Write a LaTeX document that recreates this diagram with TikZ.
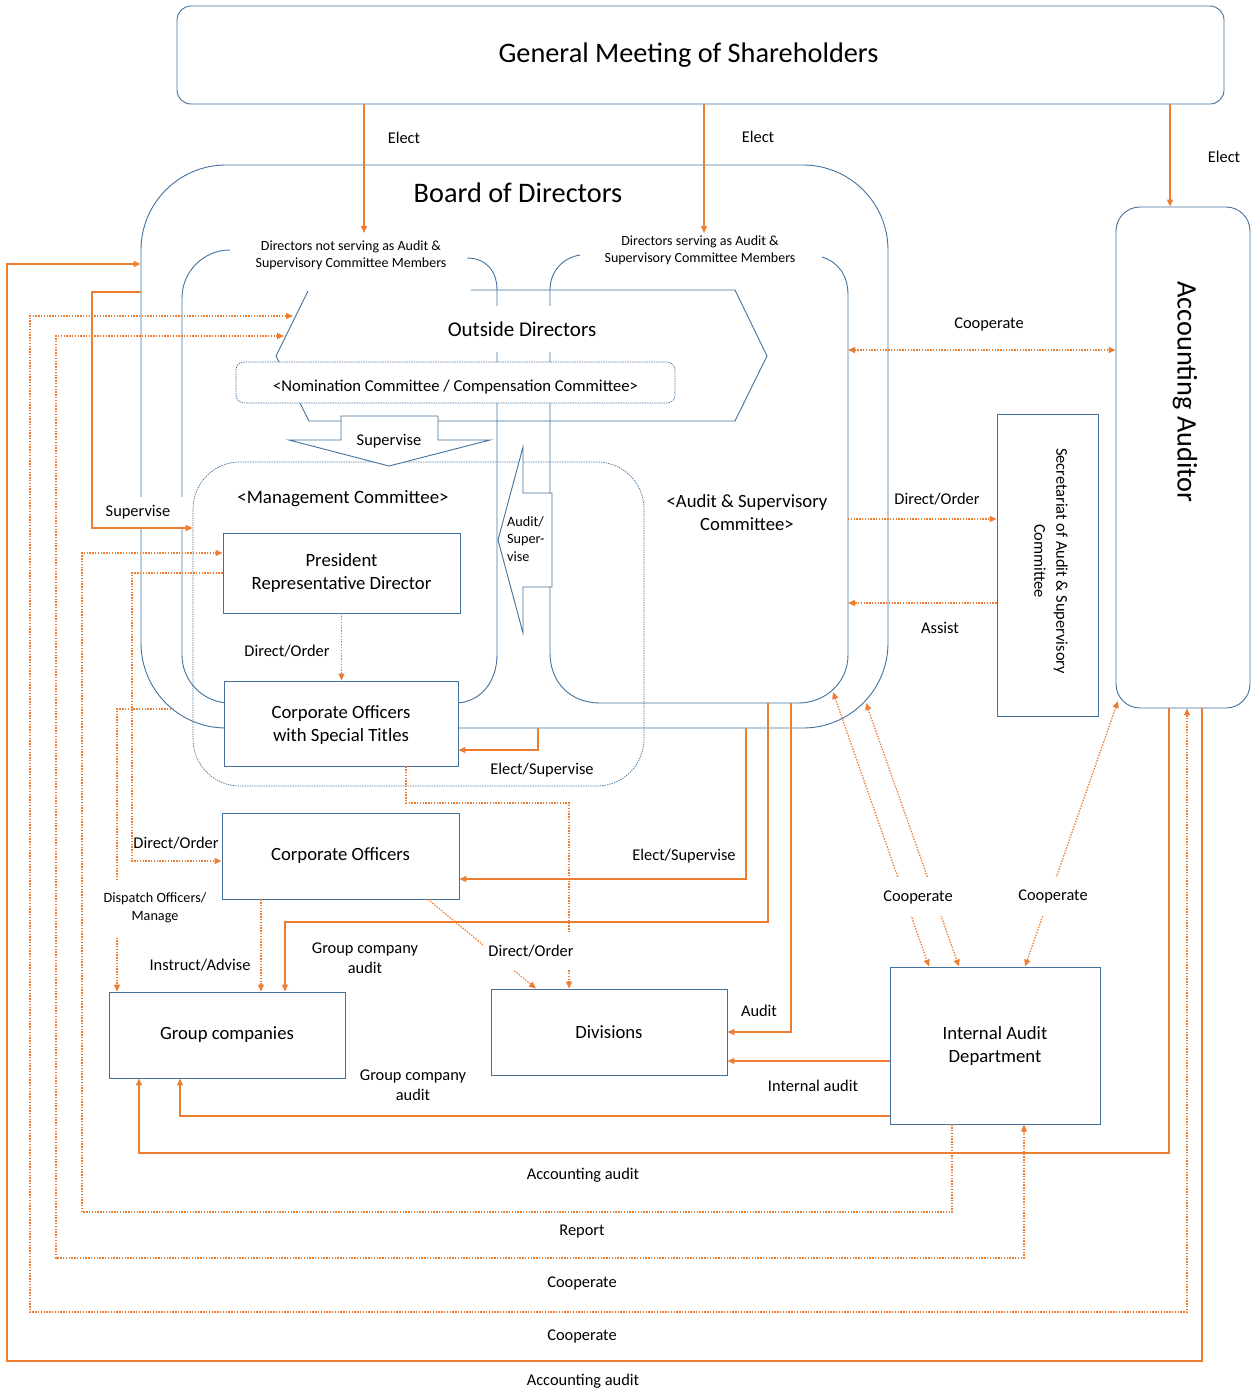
\documentclass[tikz,border=0pt]{standalone}
\usepackage{fontspec}
\setmainfont{Carlito}
\usepackage{xcolor}
\definecolor{myblue}{RGB}{65,113,156}
\definecolor{myorange}{RGB}{237,125,49}
\usetikzlibrary{arrows.meta}
\newcommand{\boxw}{237pt}
\newcommand{\boxh}{86pt}
\tikzset{
    common/.style={draw=myblue, line width=0.9pt, fill=white, align=center, inner sep=2pt},
    entity/.style={common, minimum width=\boxw, minimum height=\boxh, font=\fontsize{18.7}{23}\selectfont},
    bline/.style={myblue, line width=0.9pt},
    dline/.style={draw=myblue, line width=0.7pt, dash pattern=on 1.4pt off 1pt},
    bigtxt/.style={font=\fontsize{28.3}{32}\selectfont},
    lab/.style={align=center, inner sep=1pt, font=\fontsize{16.4}{20}\selectfont},
    smalllab/.style={align=center, inner sep=1pt, font=\fontsize{14.2}{17.5}\selectfont},
    arr/.style={-{Triangle[length=7pt,width=6pt]}},
    both/.style={{Triangle[length=7pt,width=6pt]}-{Triangle[length=7pt,width=6pt]}},
    flow/.style={myorange, line width=1.6pt, arr},
    dflow/.style={myorange, line width=1.3pt, dash pattern=on 1.4pt off 1.4pt, arr}
}
\begin{document}
\begin{tikzpicture}[x=1pt, y=-1pt]
\useasboundingbox (0,0) rectangle (1253,1393);

\node[common, fill=none, minimum width=747pt, minimum height=563pt, rounded corners=85pt] (bod) at (514.5,446.5) {};
\draw[bline, rounded corners=48pt] (230,250) -- (182,250) -- (182,703) -- (232,703);
\draw[bline] (467,258) .. controls (485,258) and (497,270) .. (497,290) -- (497,655) .. controls (497,682) and (480,703) .. (455,703);
\draw[bline] (580,255) .. controls (562,258) and (550,272) .. (550,290) -- (550,653) .. controls (550,682) and (570,703) .. (600,703) -- (798,703) .. controls (826,703) and (848,682) .. (848,655) -- (848,295) .. controls (848,275) and (838,262) .. (822,257);
\coordinate (dsg-s) at (700,703);
\coordinate (dsg-e) at (848,480);
\coordinate (dsg-c) at (833,692);
\coordinate (bod-c) at (866,703);
\coordinate (bod-sw) at (174,709);
\node[common, dline, fill=none, minimum width=451pt, minimum height=324pt, rounded corners=47pt] (mc) at (418.5,624) {};

\draw[bline] (308,291) -- (276,356) -- (309,421) -- (735,421) -- (767,356) -- (735,290) -- (471,290);
\coordinate (od-a) at (293,316);
\coordinate (od-b) at (284,336);
\node[fill=white, inner xsep=3pt, minimum height=46pt, font=\fontsize{21}{24}\selectfont] (od) at (522,329) {Outside Directors};
\node[common, dline, fill=white, minimum width=439pt, minimum height=41pt, text height=20pt, rounded corners=8pt, font=\fontsize{16.6}{20}\selectfont] (nom) at (455.5,382.5) {<Nomination Committee / Compensation Committee>};

\draw[bline, fill=white] (341,416) -- (438,416) -- (438,440) -- (490,440) -- (389,466) -- (289,440) -- (341,440) -- cycle;
\node[lab] (supv) at (389,441) {Supervise};
\draw[bline, fill=white] (523,447) -- (523,493) -- (552,493) -- (552,587) -- (523,587) -- (523,633) -- (498,540) -- cycle;
\node[smalllab, align=left, anchor=west] (ausv) at (506,539) {Audit/\\Super-\\vise};

\node[bigtxt] (bodt) at (518,193) {Board of Directors};
\node[smalllab, font=\fontsize{14}{17}\selectfont] (dngt) at (351,255) {Directors not serving as Audit \&\\Supervisory Committee Members};
\node[smalllab, font=\fontsize{14}{17}\selectfont] (dsgt) at (700,250) {Directors serving as Audit \&\\Supervisory Committee Members};
\node[font=\fontsize{18.9}{22}\selectfont] (mct) at (343,499) {<Management Committee>};
\node[align=center, font=\fontsize{18.7}{23}\selectfont] (asct) at (747,513) {<Audit \& Supervisory\\Committee>};

\node[common, bigtxt, minimum width=1047pt, minimum height=98pt, rounded corners=14pt] (gm) at (700.5,55) {\hspace*{-24pt}General Meeting of Shareholders};
\node[common, minimum width=134pt, minimum height=501pt, rounded corners=24pt] (aa) at (1183,457.5) {};
\node[bigtxt, rotate=-90] (aat) at (1185,392) {Accounting Auditor};
\coordinate (aa-c) at (1118,701);
\node[common, minimum width=101pt, minimum height=302pt] (sec) at (1047.5,565) {};
\node[lab, font=\fontsize{16.4}{22}\selectfont, rotate=-90] (sect) at (1051,561) {Secretariat of Audit \& Supervisory\\Committee};

\node[entity, minimum height=80pt] (pres) at (341.5,573) {President\\Representative Director};
\node[entity, minimum width=234pt, minimum height=85pt, text depth=0pt] (cost) at (341,723.5) {Corporate Officers\\with Special Titles};
\node[entity] (co) at (340.5,856) {Corporate Officers};
\node[entity, minimum width=236pt] (gc) at (227,1035) {Group companies};
\node[entity, minimum width=236pt] (div) at (609,1032) {Divisions};
\node[entity, minimum width=210pt, minimum height=157pt] (iad) at (995,1045.5) {Internal Audit\\Department};

\node[lab, fill=white, minimum width=92pt, minimum height=30pt] (supl) at (138,512) {Supervise};

\coordinate (e-not) at (364,233);
\coordinate (e-srv) at (704,233);
\draw[flow] (gm.south -| e-not) -- (e-not);
\draw[flow] (gm.south -| e-srv) -- (e-srv);
\draw[flow] (gm.south -| 1170,0) -- (aa.north -| 1170,0);
\draw[flow] (bod.west |- 0,292) -| (92,528) -- (mc.west |- 0,528);
\draw[flow] (bod.south -| 538,0) |- (cost.east |- 0,750);
\draw[flow] (bod.south -| 746,0) |- (co.east |- 0,879);
\draw[flow] (dsg-s -| 768,0) |- (285,922) -- (gc.north -| 285,0);
\draw[flow] (dsg-s -| 791,0) |- (div.east |- 0,1032);
\draw[flow] (iad.west |- 0,1061) -- (div.east |- 0,1061);
\draw[flow] (iad.west |- 0,1116) -| (gc.south -| 180,0);
\draw[flow] (aa.south -| 1169,0) |- (139,1153) -- (gc.south -| 139,0);
\draw[flow] (aa.south -| 1202,0) |- (7,1361) |- (bod.west |- 0,264);

\draw[dflow] (pres.south) -- (pres.south |- cost.north);
\draw[dflow] (pres.west) -| (132,861) -- (co.west |- 0,861);
\draw[dflow] (iad.south -| 952,0) |- (82,1212) |- (pres.west |- 0,553);
\draw[dflow, both] (iad.south -| 1024,0) |- (56,1258) |- (od-b);
\draw[dflow, both] (aa.south -| 1187,0) |- (30,1312) |- (od-a);
\draw[dflow] (bod-sw) -| (gc.north -| 117,0);
\draw[dflow] (co.south -| 261,0) -- (gc.north -| 261,0);
\draw[dflow] (cost.south -| 406,0) |- (569,803) -- (div.north -| 569,0);
\draw[dflow] (co.south -| 428,0) -- (div.north -| 536,0);
\draw[dflow, both] (dsg-e |- 0,350) -- (aa.west |- 0,350);
\draw[dflow] (dsg-e |- 0,519) -- (sec.west |- 0,519);
\draw[dflow] (sec.west |- 0,603) -- (dsg-e |- 0,603);
\draw[dflow, both] (dsg-c) -- (iad.north -| 929,0);
\draw[dflow, both] (bod-c) -- (iad.north -| 959,0);
\draw[dflow, both] (aa-c) -- (iad.north -| 1025,0);

\node[lab] (el-a) at (404,138) {Elect};
\node[lab] (el-b) at (758,137) {Elect};
\node[lab] (el-c) at (1224,157) {Elect};
\node[lab] (coop-c) at (989,324) {Cooperate};
\node[lab] (dord-s) at (937,499) {Direct/Order};
\node[lab] (assist) at (940,628) {Assist};
\node[lab] (dord-p) at (287,651) {Direct/Order};
\node[lab] (elsu-a) at (542,770) {Elect/Supervise};
\node[lab] (elsu-b) at (684,856) {Elect/Supervise};
\node[lab] (dord-c) at (176,843) {Direct/Order};
\node[smalllab, fill=white, minimum height=56pt] (disp) at (155,908) {Dispatch Officers/\\Manage};
\node[lab] (instr) at (200,965) {Instruct/Advise};
\node[lab] (gca-a) at (365,958) {Group company\\audit};
\node[lab, fill=white, minimum height=38pt, inner xsep=5pt] (dord-d) at (531,951) {Direct/Order};
\node[lab] (aud) at (759,1011) {Audit};
\node[lab] (inaud) at (813,1086) {Internal audit};
\node[lab] (gca-b) at (413,1085) {Group company\\audit};
\node[lab, fill=white, minimum height=38pt] (coop-a) at (918,897) {Cooperate};
\node[lab, fill=white, minimum height=38pt] (coop-b) at (1053,896) {Cooperate};
\node[lab] (acc-a) at (583,1175) {Accounting audit};
\node[lab] (rep) at (582,1232) {Report};
\node[lab] (coop-d) at (582,1283) {Cooperate};
\node[lab] (coop-e) at (582,1336) {Cooperate};
\node[lab] (acc-b) at (583,1381) {Accounting audit};
\end{tikzpicture}
\end{document}
